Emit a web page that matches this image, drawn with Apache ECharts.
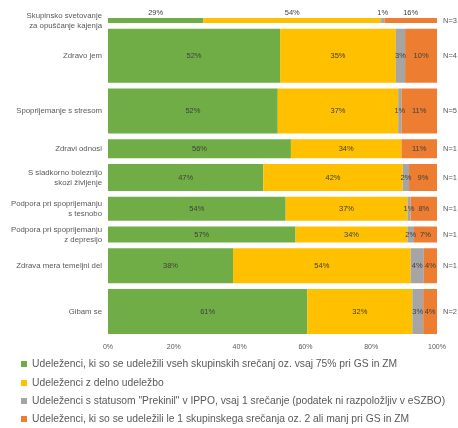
<!DOCTYPE html>
<html><head><meta charset="utf-8">
<script src="https://cdn.jsdelivr.net/npm/echarts@6/dist/echarts.min.js"></script>
<style>html,body{margin:0;padding:0;background:#fff}#c{width:458px;height:428px}</style>
</head><body><div id="c"></div>
<script>
const categories = [
  'Skupinsko svetovanje\nza opuščanje kajenja',
  'Zdravo jem',
  'Spoprijemanje s stresom',
  'Zdravi odnosi',
  'S sladkorno boleznijo\nskozi življenje',
  'Podpora pri spoprijemanju\ns tesnobo',
  'Podpora pri spoprijemanju\nz depresijo',
  'Zdrava mera temeljni del',
  'Gibam se'
];
const nLabels = ['N=3', 'N=4', 'N=5', 'N=1', 'N=1', 'N=1', 'N=1', 'N=1', 'N=2'];
const rowWeights = [5, 54, 45, 19, 27, 24, 16, 35, 45];
const seriesNames = [
  'Udeleženci, ki so se udeležili vseh skupinskih srečanj oz. vsaj 75% pri GS in ZM',
  'Udeleženci z delno udeležbo',
  'Udeleženci s statusom "Prekinil" v IPPO, vsaj 1 srečanje (podatek ni razpoložljiv v eSZBO)',
  'Udeleženci, ki so se udeležili le 1 skupinskega srečanja oz. 2 ali manj pri GS in ZM'
];
const fullAttendance = [29, 52.3, 51.6, 55.6, 47.2, 54, 57, 38, 60.6];
const partialAttendance = [54, 35.2, 36.6, 33.6, 42.4, 37, 34, 54, 31.9];
const droppedOut = [1, 2.8, 1, 0, 1.9, 1, 2, 4, 3.3];
const singleMeeting = [16, 9.7, 10.8, 10.8, 8.5, 8, 7, 4, 4.2];
const xTicks = [0, 20, 40, 60, 80, 100];

const colors = ['#70AD47', '#FFC000', '#A5A5A5', '#ED7D31'];
const FONT = 'Liberation Sans';
const GAP = 5.75;
const values = [fullAttendance, partialAttendance, droppedOut, singleMeeting];

const yTop = [], yBot = [];
let acc = 0;
rowWeights.forEach((w, i) => { yTop.push(acc); yBot.push(acc + w); acc += w + (i < rowWeights.length - 1 ? GAP : 0); });
const yTotal = acc;

function segSeries(k) {
  const data = categories.map((c, i) => {
    let s = 0; for (let j = 0; j < k; j++) s += values[j][i];
    return [s, s + values[k][i], yTop[i], yBot[i], values[k][i], i];
  });
  return {
    type: 'custom', name: seriesNames[k], itemStyle: { color: colors[k] },
    encode: { x: [0, 1], y: [2, 3] }, data,
    renderItem(params, api) {
      const x0 = api.value(0), x1 = api.value(1), y0 = api.value(2), y1 = api.value(3), v = api.value(4), i = api.value(5);
      const p0 = api.coord([x0, y0]), p1 = api.coord([x1, y1]);
      const children = [{ type: 'rect', shape: { x: p0[0], y: p0[1], width: p1[0] - p0[0], height: p1[1] - p0[1] }, style: { fill: colors[k] } }];
      if (v > 0) {
        const top = i === 0;
        children.push({ type: 'text', z2: 10, style: {
          text: Math.round(v) + '%', x: (p0[0] + p1[0]) / 2, y: top ? p0[1] - 1 : (p0[1] + p1[1]) / 2,
          align: 'center', verticalAlign: top ? 'bottom' : 'middle', fontSize: 7.5, fontFamily: FONT, fill: '#404040' } });
      }
      return { type: 'group', children };
    }
  };
}

const labelSeries = {
  type: 'custom', name: 'labels', silent: true,
  encode: { x: 0, y: 1 },
  data: categories.map((c, i) => [0, (yTop[i] + yBot[i]) / 2, i]),
  renderItem(params, api) {
    const i = api.value(2);
    const p = api.coord([0, api.value(1)]);
    const pr = api.coord([100, api.value(1)]);
    return { type: 'group', children: [
      { type: 'text', style: { text: categories[i], x: p[0] - 6, y: p[1], align: 'right', verticalAlign: 'middle', fontSize: 7.8, lineHeight: 10, fontFamily: FONT, fill: '#595959' } },
      { type: 'text', style: { text: nLabels[i], x: pr[0] + 6, y: p[1], align: 'left', verticalAlign: 'middle', fontSize: 7.5, fontFamily: FONT, fill: '#595959' } }
    ] };
  }
};

const legendTops = [354, 373, 391, 409];
const chart = echarts.init(document.getElementById('c'), null, { renderer: 'canvas' });
chart.setOption({
  animation: false,
  backgroundColor: '#fff',
  grid: { left: 108, right: 21, top: 18, bottom: 94 },
  xAxis: { type: 'value', min: 0, max: 100, interval: 20,
    axisLine: { show: false }, axisTick: { show: false }, splitLine: { show: false },
    axisLabel: { formatter: v => xTicks.includes(v) ? v + '%' : '', fontSize: 7, fontFamily: FONT, color: '#595959', margin: 10 } },
  yAxis: { type: 'value', min: 0, max: yTotal, inverse: true, show: false },
  legend: seriesNames.map((n, i) => ({ data: [n], orient: 'horizontal', left: 16, top: legendTops[i], itemWidth: 6, itemHeight: 6, icon: 'rect',
    textStyle: { fontSize: 10.3, fontFamily: FONT, color: '#595959' } })),
  series: [segSeries(0), segSeries(1), segSeries(2), segSeries(3), labelSeries]
});
</script></body></html>
